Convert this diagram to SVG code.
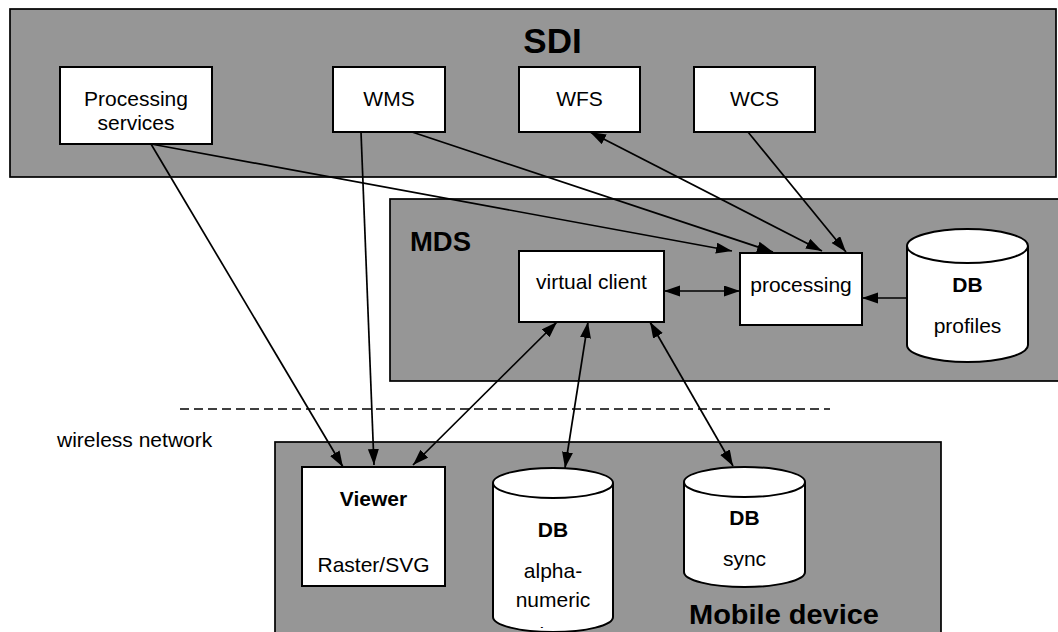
<svg xmlns="http://www.w3.org/2000/svg" width="1058" height="632" viewBox="0 0 1058 632">
<style>
.cont{fill:#969696;stroke:#000;stroke-width:1.7}
.box{fill:#fff;stroke:#000;stroke-width:2}
.t{font-family:"Liberation Sans",Arial,sans-serif;font-size:21px;fill:#000;text-anchor:middle}
.b{font-weight:bold}
.title{font-family:"Liberation Sans",Arial,sans-serif;font-weight:bold;fill:#000}
.c line{stroke:#000;stroke-width:1.7;fill:none}
.one{marker-end:url(#ah)}
.two{marker-end:url(#ah);marker-start:url(#ah)}
</style>
<defs>
<marker id="ah" markerUnits="userSpaceOnUse" markerWidth="18" markerHeight="13" refX="16" refY="5.5" orient="auto-start-reverse">
<path d="M0,0 L16,5.5 L0,11 z" fill="#000"/>
</marker>
<clipPath id="clipAlpha"><rect x="480" y="460" width="150" height="168"/></clipPath>
</defs>
<rect width="1058" height="632" fill="#fff"/>
<g id="sdi">
<rect class="cont" x="10" y="9" width="1046" height="168"/>
<text class="title" x="552.5" y="53" font-size="35" text-anchor="middle">SDI</text>
</g>
<g id="mds">
<rect class="cont" x="390" y="199" width="680" height="182"/>
<text class="title" x="410" y="251" font-size="28" textLength="61" lengthAdjust="spacingAndGlyphs">MDS</text>
</g>
<g id="mobile">
<rect class="cont" x="275" y="442" width="666" height="200"/>
<text class="title" x="689" y="624" font-size="28" textLength="190" lengthAdjust="spacingAndGlyphs">Mobile device</text>
</g>
<g id="network">
<line x1="180" y1="409" x2="830" y2="409" stroke="#000" stroke-width="1.5" stroke-dasharray="9,5"/>
<text class="t" x="57" y="447" style="text-anchor:start">wireless network</text>
</g>
<g class="c" id="connectors">
<line class="one" x1="151" y1="144" x2="343" y2="467"/>
<line class="one" x1="151" y1="144" x2="732" y2="251"/>
<line class="one" x1="361" y1="132" x2="374" y2="465"/>
<line class="one" x1="412" y1="132" x2="773" y2="252"/>
<line class="two" x1="590" y1="132" x2="822" y2="251"/>
<line class="one" x1="748" y1="132" x2="846" y2="252"/>
<line class="two" x1="664" y1="291" x2="740" y2="291"/>
<line class="one" x1="907" y1="298" x2="862" y2="298"/>
<line class="two" x1="557" y1="322" x2="413" y2="465"/>
<line class="two" x1="588" y1="322" x2="565" y2="468"/>
<line class="two" x1="650" y1="322" x2="733" y2="466"/>
</g>
<g id="processing-services">
<rect class="box" x="60" y="67" width="152" height="77"/>
<text class="t" x="136" y="106">Processing</text>
<text class="t" x="136" y="130">services</text>
</g>
<g id="wms">
<rect class="box" x="333" y="67" width="112" height="65"/>
<text class="t" x="389" y="106">WMS</text>
</g>
<g id="wfs">
<rect class="box" x="519" y="67" width="121" height="65"/>
<text class="t" x="579.5" y="106">WFS</text>
</g>
<g id="wcs">
<rect class="box" x="694" y="67" width="121" height="65"/>
<text class="t" x="754.5" y="106">WCS</text>
</g>
<g id="virtual-client">
<rect class="box" x="519" y="251" width="145" height="71"/>
<text class="t" x="591.5" y="289">virtual client</text>
</g>
<g id="processing">
<rect class="box" x="740" y="253" width="122" height="72"/>
<text class="t" x="801" y="292">processing</text>
</g>
<g id="db-profiles">
<path class="box" d="M907,246 A60.5,17 0 0 1 1028,246 L1028,345 A60.5,17 0 0 1 907,345 Z"/>
<path d="M907,246 A60.5,17 0 0 0 1028,246" fill="none" stroke="#000" stroke-width="2"/>
<text class="t b" x="967.5" y="292">DB</text>
<text class="t" x="967.5" y="333">profiles</text>
</g>
<g id="viewer">
<rect class="box" x="302" y="467" width="143" height="119"/>
<text class="t b" x="373.5" y="506">Viewer</text>
<text class="t" x="373.5" y="572">Raster/SVG</text>
</g>
<g id="db-alpha">
<path class="box" d="M493,483 A60,15 0 0 1 613,483 L613,617 A60,15 0 0 1 493,617 Z"/>
<path d="M493,483 A60,15 0 0 0 613,483" fill="none" stroke="#000" stroke-width="2"/>
<text class="t b" x="553" y="537">DB</text>
<text class="t" x="553" y="578">alpha-</text>
<text class="t" x="553" y="607">numeric</text>
<text class="t" x="553" y="642" clip-path="url(#clipAlpha)">data</text>
</g>
<g id="db-sync">
<path class="box" d="M684,482 A60.5,15 0 0 1 805,482 L805,572 A60.5,15 0 0 1 684,572 Z"/>
<path d="M684,482 A60.5,15 0 0 0 805,482" fill="none" stroke="#000" stroke-width="2"/>
<text class="t b" x="744.5" y="525">DB</text>
<text class="t" x="744.5" y="566">sync</text>
</g>
</svg>
